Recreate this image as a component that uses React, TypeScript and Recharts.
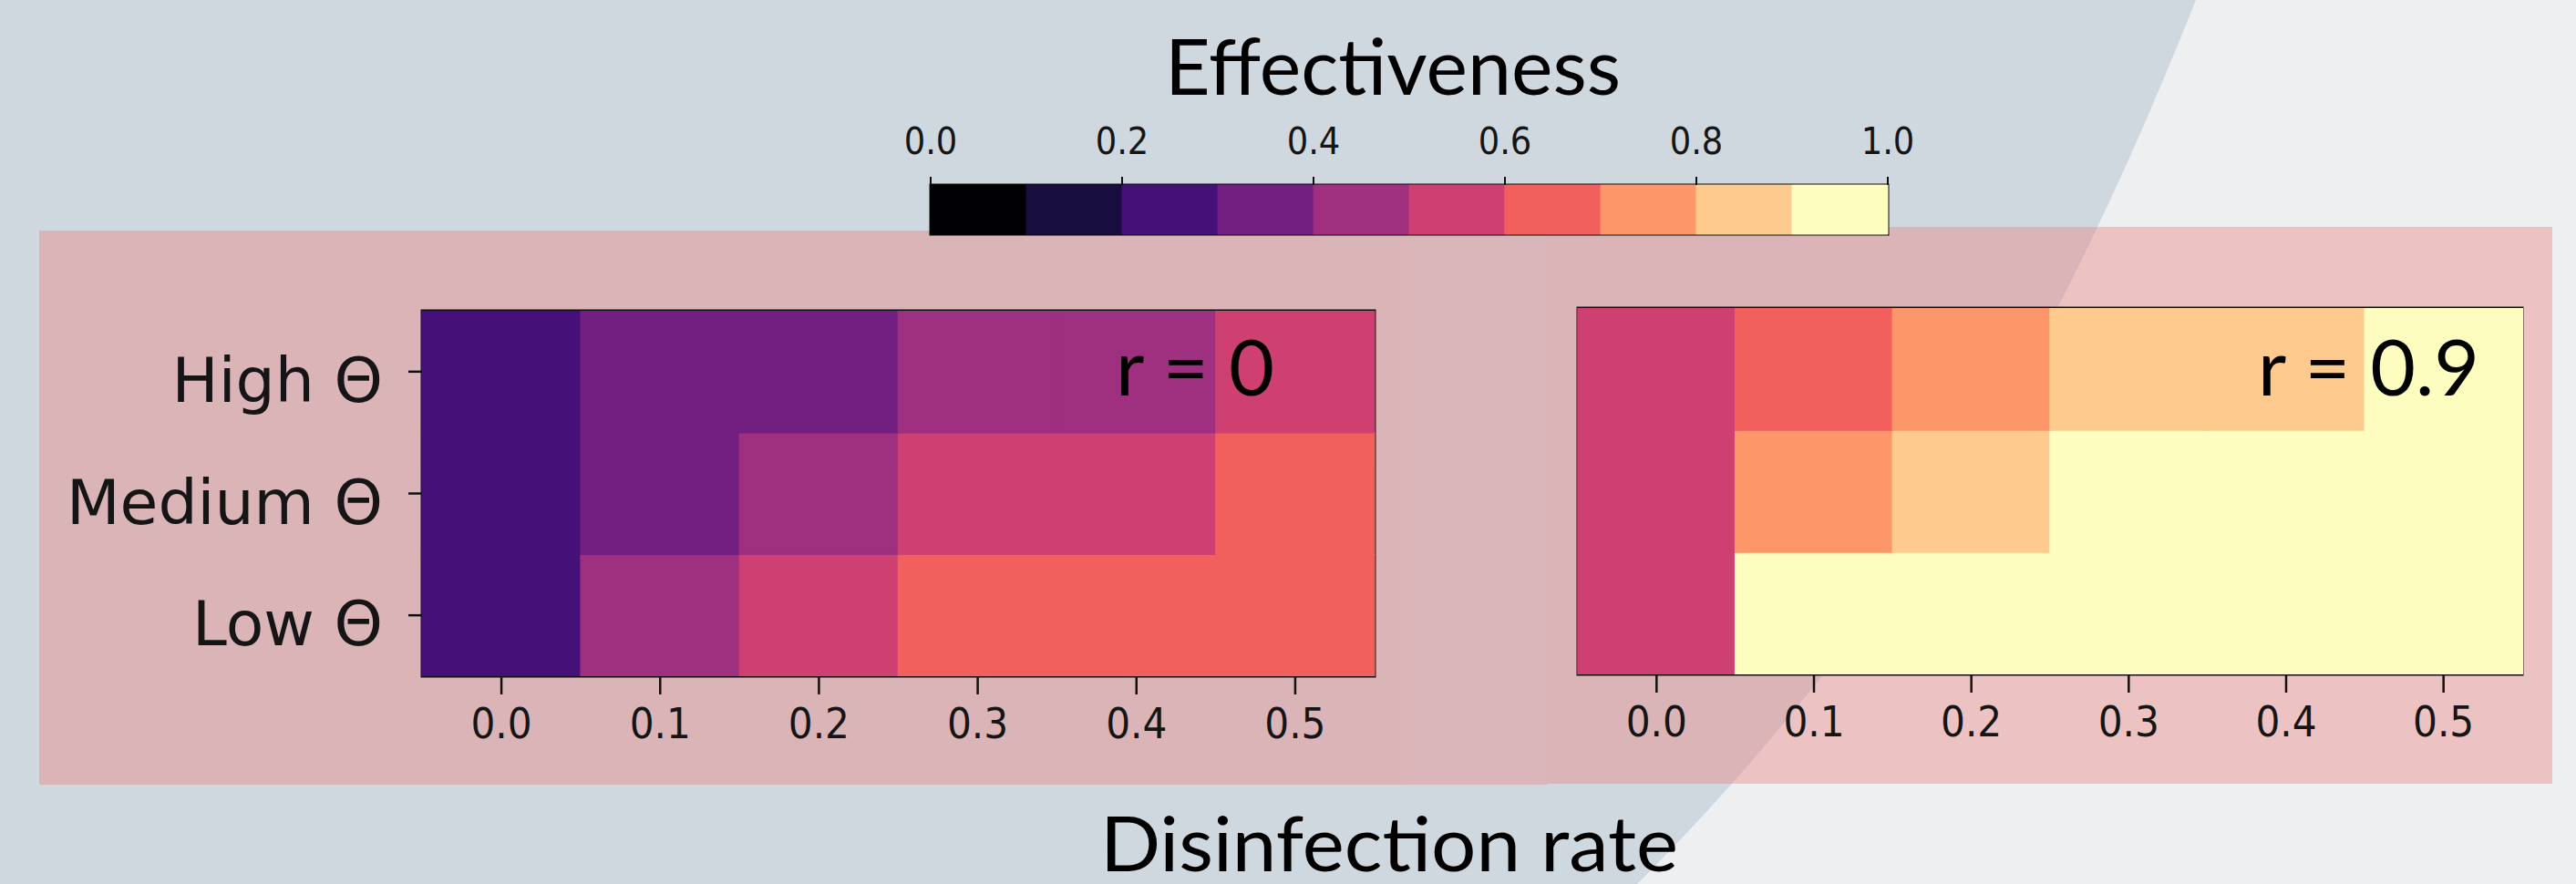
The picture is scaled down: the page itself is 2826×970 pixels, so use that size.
import React from 'react';
import { BarChart, Bar, XAxis, YAxis, Cell, ReferenceArea } from 'recharts';

// ---------- data ----------
const rates = ['0.0', '0.1', '0.2', '0.3', '0.4', '0.5'];
const thetaLevels = ['Low Θ', 'Medium Θ', 'High Θ'];

// Effectiveness, r = 0
const r0Low = [0.26, 0.45, 0.56, 0.62, 0.66, 0.68];
const r0Medium = [0.25, 0.36, 0.45, 0.53, 0.58, 0.64];
const r0High = [0.24, 0.34, 0.38, 0.43, 0.48, 0.55];

// Effectiveness, r = 0.9
const r9Low = [0.57, 0.94, 0.97, 0.98, 0.99, 0.99];
const r9Medium = [0.56, 0.75, 0.85, 0.93, 0.95, 0.96];
const r9High = [0.55, 0.64, 0.74, 0.83, 0.87, 0.92];

const colorbarBounds = [0, 0.1, 0.2, 0.3, 0.4, 0.5, 0.6, 0.7, 0.8, 0.9, 1.0];
const colorbarTicks = [0, 0.2, 0.4, 0.6, 0.8, 1.0];
const magma10 = ['#000004', '#180f3e', '#451077', '#721f81', '#9f2f7f', '#cd4071', '#f1605d', '#fd9668', '#feca8d', '#fcfdbf'];

// ---------- helpers ----------
const colorFor = (v: number) => {
  let idx = 0;
  for (let i = 0; i < colorbarBounds.length - 1; i++) {
    if (v >= colorbarBounds[i]) idx = i;
  }
  return magma10[idx];
};

const TICK_FONT = "'DejaVu Sans Condensed', 'DejaVu Sans', sans-serif";
const LABEL_FONT = "'DejaVu Sans', sans-serif";
const TITLE_FONT = "Lato, 'Open Sans', sans-serif";

const heatRows = rates.map((rate) => ({ rate, Low: 1, Medium: 1, High: 1 }));

const XTick = (props: any) => {
  const { x, y, payload } = props;
  return (
    <text x={x} y={y} dy="0.71em" textAnchor="middle" fontFamily={TICK_FONT} fontSize={47} fill="#151515">
      {payload.value}
    </text>
  );
};

const YTick = (props: any) => {
  const { x, y, payload } = props;
  const idx = Math.round(payload.value - 0.5);
  return (
    <text x={x} y={y} dy={33} textAnchor="end" fontFamily={LABEL_FONT} fontSize={68} fill="#151515">
      {thetaLevels[idx]}
    </text>
  );
};

const CbTick = (props: any) => {
  const { x, y, payload } = props;
  return (
    <text x={x} y={y} textAnchor="middle" fontFamily={TICK_FONT} fontSize={41} fill="#151515">
      {Number(payload.value).toFixed(1)}
    </text>
  );
};

type HeatProps = {
  low: number[];
  medium: number[];
  high: number[];
  width: number;
  height: number;
  yAxisWidth: number;
  marginTop: number;
  marginRight: number;
  showLabels: boolean;
};

const Heatmap = ({ low, medium, high, width, height, yAxisWidth, marginTop, marginRight, showLabels }: HeatProps) => {
  const series: [string, number[]][] = [
    ['Low', low],
    ['Medium', medium],
    ['High', high],
  ];
  return (
    <BarChart
      width={width}
      height={height}
      data={heatRows}
      margin={{ top: marginTop, right: marginRight, bottom: 0, left: 0 }}
      barCategoryGap={0}
      barGap={0}
    >
      <XAxis
        dataKey="rate"
        type="category"
        height={118}
        axisLine={false}
        tickLine={{ stroke: '#111', strokeWidth: 2.5 }}
        tickSize={20}
        tickMargin={15}
        tick={<XTick />}
        interval={0}
      />
      <YAxis
        type="number"
        domain={[0, 3]}
        ticks={[0.5, 1.5, 2.5]}
        width={yAxisWidth}
        axisLine={false}
        tickLine={{ stroke: '#111', strokeWidth: 2.5 }}
        tickSize={15}
        tickMargin={28}
        tick={showLabels ? <YTick /> : false}
        allowDataOverflow
      />
      {series.map(([key, vals]) => (
        <Bar key={key} dataKey={key} stackId="h" isAnimationActive={false}>
          {vals.map((v, i) => (
            <Cell key={i} fill={colorFor(v)} stroke={colorFor(v)} strokeWidth={1.5} />
          ))}
        </Bar>
      ))}
      <ReferenceArea y1={0} y2={3} fill="none" stroke="#111" strokeWidth={3} ifOverflow="visible" />
    </BarChart>
  );
};

const cbRow: Record<string, any> = { name: 'cb' };
colorbarBounds.slice(0, -1).forEach((b, i) => {
  cbRow['b' + i] = +(colorbarBounds[i + 1] - b).toFixed(3);
});
const cbData = [cbRow];

const Colorbar = () => (
  <BarChart
    width={1180}
    height={140}
    layout="vertical"
    data={cbData}
    margin={{ top: 23, right: 69, bottom: 3, left: 61 }}
    barCategoryGap={0}
    barGap={0}
  >
    <XAxis
      type="number"
      orientation="top"
      domain={[0, 1]}
      ticks={colorbarTicks}
      height={60}
      axisLine={false}
      tickLine={{ stroke: '#111', strokeWidth: 2 }}
      tickSize={9}
      tickMargin={25}
      tick={<CbTick />}
      interval={0}
    />
    <YAxis type="category" dataKey="name" hide />
    {magma10.map((c, i) => (
      <Bar key={i} dataKey={'b' + i} stackId="c" fill={c} stroke={c} strokeWidth={1} isAnimationActive={false} />
    ))}
    <ReferenceArea x1={0} x2={1} fill="none" stroke="#111" strokeWidth={3} ifOverflow="visible" />
  </BarChart>
);

export default function App() {
  return (
    <div style={{ position: 'absolute', left: 0, top: 0, width: 2826, height: 970, overflow: 'hidden', background: '#eeeff1' }}>
      {/* background decoration */}
      <svg width={2826} height={970} style={{ position: 'absolute', left: 0, top: 0 }}>
        <path d="M0,0 L2409,0 C2280,323 2119,647 1796,970 L0,970 Z" fill="#cfd8df" />
        <rect x={43} y={253} width={1498} height={608} fill="rgb(238,123,122)" fillOpacity={0.387} />
        <rect x={1541} y={253} width={157} height={608} fill="rgb(238,123,122)" fillOpacity={0.36} />
        <rect x={1698} y={249} width={1102} height={611} fill="rgb(238,123,122)" fillOpacity={0.387} />
      </svg>

      <div style={{ position: 'absolute', left: 960, top: 120 }}>
        <Colorbar />
      </div>

      <div style={{ position: 'absolute', left: 0, top: 300 }}>
        <Heatmap low={r0Low} medium={r0Medium} high={r0High} width={1560} height={560} yAxisWidth={463} marginTop={41} marginRight={52} showLabels />
      </div>

      <div style={{ position: 'absolute', left: 1600, top: 297 }}>
        <Heatmap low={r9Low} medium={r9Medium} high={r9High} width={1207} height={561} yAxisWidth={131} marginTop={41} marginRight={40} showLabels={false} />
      </div>

      <svg width={2826} height={970} style={{ position: 'absolute', left: 0, top: 0, pointerEvents: 'none' }}>
        <text x={1278} y={104} fontFamily={TITLE_FONT} fontSize={85} fill="#000" textLength={500} lengthAdjust="spacingAndGlyphs">
          Effectiveness
        </text>
        <text x={1207} y={956} fontFamily={TITLE_FONT} fontSize={84} fill="#000" textLength={634} lengthAdjust="spacingAndGlyphs">
          Disinfection rate
        </text>
        <text x={1224} y={434} fontFamily={TITLE_FONT} fontSize={86} fill="#000" textLength={174} lengthAdjust="spacingAndGlyphs">
          r = 0
        </text>
        <text x={2477} y={434} fontFamily={TITLE_FONT} fontSize={86} fill="#000" textLength={243} lengthAdjust="spacingAndGlyphs">
          r = 0.9
        </text>
      </svg>
    </div>
  );
}
